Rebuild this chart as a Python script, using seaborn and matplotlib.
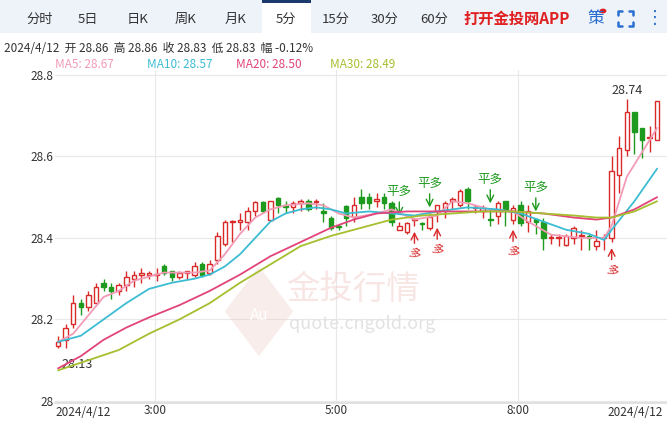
import numpy as np
import pandas as pd
import matplotlib.pyplot as plt
import seaborn as sns
from matplotlib.patches import Rectangle, Polygon
from matplotlib.lines import Line2D

# 5-minute candles, 2024/4/12 (open, close, high, low)
opens = [28.135, 28.15, 28.19, 28.24, 28.23, 28.24, 28.29, 28.28, 28.27, 28.285,
         28.30, 28.31, 28.31, 28.31, 28.33, 28.32, 28.305, 28.315, 28.31, 28.335,
         28.315, 28.345, 28.385, 28.44, 28.44, 28.44, 28.465, 28.488, 28.445, 28.498,
         28.48, 28.475, 28.485, 28.49, 28.488, 28.467, 28.45, 28.43, 28.478, 28.452,
         28.50, 28.50, 28.49, 28.50, 28.485, 28.42, 28.415, 28.445, 28.436, 28.425,
         28.465, 28.465, 28.49, 28.48, 28.52, 28.473, 28.467, 28.447, 28.455, 28.49,
         28.445, 28.48, 28.44, 28.447, 28.44, 28.40, 28.40, 28.383, 28.40, 28.405,
         28.405, 28.38, 28.40, 28.40, 28.555, 28.615, 28.71, 28.67, 28.645, 28.64]
closes = [28.145, 28.18, 28.24, 28.23, 28.26, 28.28, 28.28, 28.27, 28.285, 28.305,
          28.31, 28.315, 28.315, 28.312, 28.315, 28.305, 28.315, 28.318, 28.33, 28.31,
          28.335, 28.405, 28.44, 28.442, 28.445, 28.465, 28.488, 28.465, 28.49, 28.48,
          28.475, 28.485, 28.49, 28.47, 28.49, 28.46, 28.425, 28.428, 28.45, 28.48,
          28.485, 28.485, 28.495, 28.485, 28.44, 28.43, 28.437, 28.447, 28.433, 28.452,
          28.48, 28.485, 28.495, 28.515, 28.49, 28.474, 28.473, 28.445, 28.485, 28.47,
          28.473, 28.437, 28.465, 28.44, 28.40, 28.402, 28.402, 28.405, 28.425, 28.407,
          28.40, 28.393, 28.402, 28.565, 28.62, 28.71, 28.66, 28.64, 28.647, 28.735]
highs = [28.16, 28.19, 28.26, 28.25, 28.27, 28.29, 28.30, 28.29, 28.29, 28.32,
         28.32, 28.325, 28.32, 28.325, 28.335, 28.32, 28.32, 28.32, 28.34, 28.34,
         28.345, 28.415, 28.445, 28.445, 28.46, 28.475, 28.49, 28.49, 28.49, 28.50,
         28.49, 28.49, 28.495, 28.495, 28.495, 28.485, 28.455, 28.435, 28.48, 28.50,
         28.52, 28.51, 28.51, 28.51, 28.49, 28.44, 28.44, 28.45, 28.44, 28.46,
         28.48, 28.49, 28.50, 28.52, 28.525, 28.48, 28.48, 28.47, 28.49, 28.49,
         28.48, 28.49, 28.48, 28.45, 28.45, 28.41, 28.41, 28.41, 28.43, 28.42,
         28.41, 28.42, 28.41, 28.60, 28.65, 28.74, 28.71, 28.67, 28.675, 28.735]
lows = [28.13, 28.13, 28.18, 28.21, 28.22, 28.24, 28.27, 28.25, 28.26, 28.27,
        28.28, 28.29, 28.30, 28.295, 28.31, 28.295, 28.30, 28.30, 28.305, 28.305,
        28.31, 28.335, 28.38, 28.39, 28.42, 28.42, 28.455, 28.46, 28.445, 28.46,
        28.46, 28.46, 28.465, 28.465, 28.47, 28.44, 28.42, 28.42, 28.43, 28.44,
        28.47, 28.47, 28.475, 28.47, 28.43, 28.42, 28.41, 28.43, 28.42, 28.42,
        28.44, 28.45, 28.47, 28.475, 28.47, 28.46, 28.45, 28.43, 28.435, 28.43,
        28.435, 28.43, 28.415, 28.41, 28.37, 28.385, 28.38, 28.38, 28.385, 28.37,
        28.37, 28.37, 28.37, 28.39, 28.51, 28.60, 28.605, 28.595, 28.61, 28.64]

# moving averages read at selected candles
ma5_idx = [0, 2, 4, 6, 8, 10, 12, 14, 16, 18, 20, 22, 24, 26, 28, 30, 33, 35, 37, 39,
           42, 44, 47, 50, 52, 54, 57, 60, 62, 65, 69, 72, 73, 75, 77, 79]
ma5_val = [28.145, 28.165, 28.21, 28.255, 28.27, 28.295, 28.305, 28.315, 28.315, 28.315,
           28.32, 28.36, 28.41, 28.45, 28.47, 28.48, 28.485, 28.48, 28.46, 28.45,
           28.46, 28.47, 28.445, 28.455, 28.49, 28.485, 28.47, 28.465, 28.44, 28.408,
           28.40, 28.40, 28.43, 28.55, 28.61, 28.67]
ma10_idx = [0, 3, 6, 9, 12, 15, 18, 20, 22, 24, 26, 28, 30, 32, 34, 36, 38, 41, 44,
            47, 50, 54, 58, 61, 64, 67, 70, 72, 73, 76, 79]
ma10_val = [28.145, 28.16, 28.20, 28.24, 28.275, 28.29, 28.30, 28.31, 28.33, 28.36,
            28.40, 28.44, 28.46, 28.47, 28.475, 28.47, 28.46, 28.465, 28.46, 28.455,
            28.465, 28.475, 28.47, 28.46, 28.44, 28.42, 28.41, 28.395, 28.42, 28.49, 28.57]
ma20_idx = [0, 3, 6, 9, 12, 16, 20, 24, 28, 32, 36, 39, 42, 46, 50, 55, 60, 64, 68,
            71, 73, 76, 79]
ma20_val = [28.08, 28.11, 28.15, 28.18, 28.205, 28.235, 28.27, 28.31, 28.355, 28.39,
            28.425, 28.445, 28.46, 28.465, 28.465, 28.465, 28.465, 28.46, 28.45,
            28.445, 28.45, 28.47, 28.50]
ma30_idx = [0, 4, 8, 12, 16, 20, 24, 28, 32, 36, 40, 44, 48, 52, 56, 60, 64, 68, 71,
            73, 76, 79]
ma30_val = [28.075, 28.10, 28.125, 28.165, 28.20, 28.24, 28.29, 28.335, 28.38, 28.405,
            28.425, 28.445, 28.455, 28.46, 28.465, 28.465, 28.46, 28.455, 28.45,
            28.45, 28.465, 28.49]

exit_idx = [45, 49, 57, 63]      # 平多
long_idx = [47, 50, 60, 73]      # 多
time_ticks = [12.8, 36.7, 60.6]
time_labels = ["3:00", "5:00", "8:00"]
tabs = ["分时", "5日", "日K", "周K", "月K", "5分", "15分", "30分", "60分"]

RED, GREEN = "#d92a2a", "#1e9a1e"
MA_COLORS = ["#f39bb6", "#3cbcd2", "#e2447a", "#a5bf2e"]

sns.set_theme(style="white")
plt.rcParams['font.family'] = ['Noto Sans CJK SC', 'DejaVu Sans']

fig = plt.figure(figsize=(6.67, 4.23), dpi=100)
ax = fig.add_axes([55 / 667, 20 / 423, 612 / 667, 333 / 423])

n = len(opens)
x = np.arange(n)
for i in x:
    up = closes[i] >= opens[i]
    c = RED if up else GREEN
    lo, hi = min(opens[i], closes[i]), max(opens[i], closes[i])
    ax.vlines(i, lows[i], lo, color=c, lw=1, zorder=3)
    ax.vlines(i, hi, highs[i], color=c, lw=1, zorder=3)
    h = max(hi - lo, 0.002)
    ax.add_patch(Rectangle((i - 0.3, lo), 0.6, h, facecolor="white" if up else c,
                           edgecolor=c, lw=1, zorder=4))

ma_df = pd.concat([
    pd.DataFrame({"i": ma5_idx, "v": ma5_val, "ma": "MA5"}),
    pd.DataFrame({"i": ma10_idx, "v": ma10_val, "ma": "MA10"}),
    pd.DataFrame({"i": ma20_idx, "v": ma20_val, "ma": "MA20"}),
    pd.DataFrame({"i": ma30_idx, "v": ma30_val, "ma": "MA30"}),
])
sns.lineplot(data=ma_df, x="i", y="v", hue="ma", palette=MA_COLORS, lw=1.3,
             legend=False, ax=ax, zorder=5, sort=False)

for i in exit_idx:
    ax.annotate("", xy=(i, highs[i] + 0.008), xytext=(i, highs[i] + 0.055),
                arrowprops=dict(arrowstyle="->", color=GREEN, lw=1))
    ax.text(i, highs[i] + 0.058, "平多", color=GREEN, fontsize=9, ha="center", va="bottom")
for i in long_idx:
    ax.annotate("", xy=(i, lows[i] - 0.008), xytext=(i, lows[i] - 0.05),
                arrowprops=dict(arrowstyle="->", color=RED, lw=1))
    ax.text(i, lows[i] - 0.05, "多", color=RED, fontsize=8.5, ha="center", va="top", rotation=-20)

ax.text(75, 28.745, "28.74", fontsize=9, color="#333333", ha="center", va="bottom")
ax.text(0.5, 28.105, "28.13", fontsize=9, color="#333333", ha="left", va="top")

# watermark
ax.add_patch(Polygon([(22, 28.22), (26.5, 28.33), (31, 28.22), (26.5, 28.11)],
                     closed=True, facecolor="#eec4bd", alpha=0.3, edgecolor="none", zorder=1))
ax.text(26.5, 28.21, "Au", fontsize=11, color="white", ha="center", va="center", zorder=2)
ax.text(30, 28.275, "金投行情", fontsize=24, color="#f0cfc9", alpha=0.5, va="center", zorder=1)
ax.text(30.5, 28.19, "quote.cngold.org", fontsize=13, color="#e2e2e2", va="center", zorder=1)

ax.set_xlim(-0.4, 80.3)
ax.set_ylim(27.995, 28.812)
ax.set_yticks([28, 28.2, 28.4, 28.6, 28.8])
ax.set_yticklabels(["28", "28.2", "28.4", "28.6", "28.8"])
ax.set_xticks(time_ticks)
ax.set_xticklabels(time_labels)
ax.tick_params(axis="both", length=0, labelsize=8.5, colors="#333333", pad=1)
ax.grid(True, color="#e8e8e8", lw=0.8)
ax.set_xlabel("")
ax.set_ylabel("")
for s in ["top", "right", "left"]:
    ax.spines[s].set_visible(False)
ax.spines["bottom"].set_color("#dddddd")
ax.text(-0.4, -0.03, "2024/4/12", transform=ax.get_xaxis_transform(), fontsize=8.5,
        color="#333333", ha="left", va="center")
ax.text(79.8, -0.03, "2024/4/12", transform=ax.get_xaxis_transform(), fontsize=8.5,
        color="#333333", ha="right", va="center")

# header tab bar
fig.patches.append(Rectangle((0, 390 / 423), 1, 33 / 423, transform=fig.transFigure,
                             facecolor="#eef3fa", edgecolor="none"))
fig.patches.append(Rectangle((262 / 667, 390 / 423), 49 / 667, 31 / 423,
                             transform=fig.transFigure, facecolor="white", edgecolor="none"))
fig.patches.append(Rectangle((262 / 667, 420 / 423), 49 / 667, 2.5 / 423,
                             transform=fig.transFigure, facecolor="#1d3a6e", edgecolor="none"))
tab_x = [40, 88, 138, 186, 236, 286, 336, 385, 434]
for tx, t in zip(tab_x, tabs):
    fig.text(tx / 667, 1 - 19 / 423, t, fontsize=9.5, color="#333333", ha="center", va="center")
fig.text(463 / 667, 1 - 19 / 423, "打开金投网APP", fontsize=11, color="#e02020",
         ha="left", va="center", fontweight="bold")
fig.text(596 / 667, 1 - 19 / 423, "策", fontsize=12, color="#2a6fd0", ha="center", va="center")
fig.patches.append(plt.Circle((603 / 667, 1 - 11 / 423), 0.004, transform=fig.transFigure,
                              color="#e02020"))
# fullscreen corner brackets
for (cx, cy, dx, dy) in [(618, 11, 1, 1), (633, 11, -1, 1), (618, 26, 1, -1), (633, 26, -1, -1)]:
    fig.lines.append(Line2D([cx / 667, cx / 667, (cx + 4 * dx) / 667],
                            [1 - (cy + 4 * dy) / 423, 1 - cy / 423, 1 - cy / 423],
                            transform=fig.transFigure, color="#2a6fd0", lw=1.8))
fig.text(655 / 667, 1 - 18 / 423, "⋮", fontsize=13, color="#2a6fd0", ha="center", va="center",
         family="DejaVu Sans")

fig.text(4 / 667, 1 - 48 / 423, "2024/4/12  开 28.86  高 28.86  收 28.83  低 28.83  幅 -0.12%",
         fontsize=8.5, color="#333333", ha="left", va="center")
for mx, lab, col in zip([55, 147, 236, 330],
                        ["MA5: 28.67", "MA10: 28.57", "MA20: 28.50", "MA30: 28.49"], MA_COLORS):
    fig.text(mx / 667, 1 - 64 / 423, lab, fontsize=8.5, color=col, ha="left", va="center")

fig.savefig("out.png", dpi=100)
